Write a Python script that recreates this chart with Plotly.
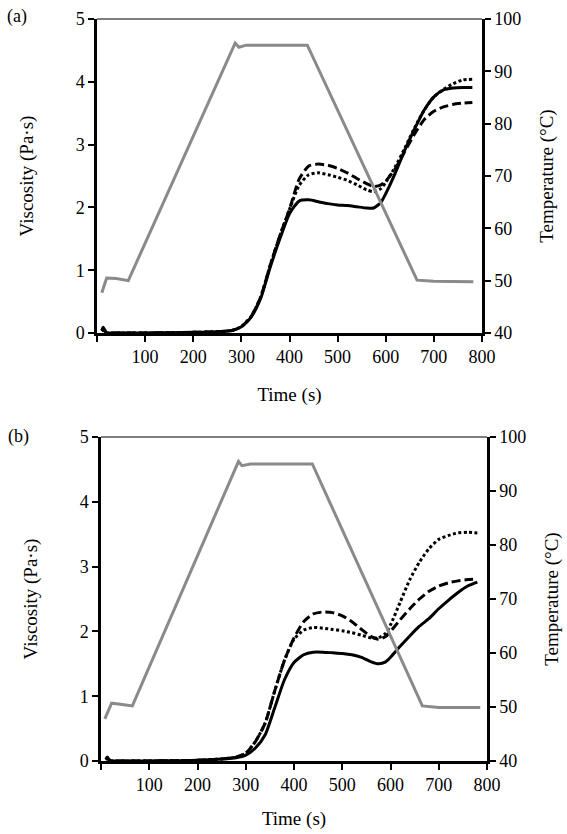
import plotly.graph_objects as go

# ---------------- data ----------------
time_v = [10, 13, 16, 20, 30, 50, 100, 150, 200, 250, 280, 300, 320, 340, 360, 380, 400,
          420, 440, 460, 480, 500, 520, 540, 560, 575, 590, 600, 620, 640, 660, 680,
          700, 720, 740, 760, 780]

# panel (a)
visc_a_solid = [0.04, 0.09, 0.05, 0.0, 0.0, 0.0, 0.0, 0.005, 0.01, 0.02, 0.04, 0.1, 0.25,
                0.55, 1.05, 1.5, 1.9, 2.1, 2.12, 2.09, 2.06, 2.04, 2.03, 2.01, 1.99, 1.99,
                2.08, 2.22, 2.55, 2.92, 3.25, 3.55, 3.76, 3.87, 3.9, 3.91, 3.91]
visc_a_dash = [0.03, 0.05, 0.03, 0.0, 0.0, 0.0, 0.0, 0.005, 0.01, 0.02, 0.04, 0.1, 0.26,
               0.57, 1.08, 1.55, 1.97, 2.45, 2.66, 2.69, 2.67, 2.62, 2.55, 2.46, 2.38, 2.33,
               2.36, 2.42, 2.62, 2.9, 3.17, 3.4, 3.53, 3.6, 3.64, 3.66, 3.67]
visc_a_dot = [0.03, 0.05, 0.03, 0.0, 0.0, 0.0, 0.0, 0.005, 0.01, 0.02, 0.04, 0.1, 0.26,
              0.57, 1.08, 1.55, 1.97, 2.35, 2.52, 2.55, 2.52, 2.48, 2.43, 2.36, 2.28, 2.25,
              2.3, 2.4, 2.65, 2.95, 3.27, 3.55, 3.76, 3.88, 3.97, 4.03, 4.04]

# panel (b)
visc_b_solid = [0.03, 0.06, 0.03, 0.0, 0.0, 0.0, 0.0, 0.005, 0.01, 0.03, 0.05, 0.09, 0.2,
                0.4, 0.82, 1.25, 1.52, 1.64, 1.68, 1.68, 1.67, 1.66, 1.64, 1.6, 1.53, 1.5,
                1.53, 1.6, 1.77, 1.93, 2.08, 2.2, 2.35, 2.48, 2.6, 2.7, 2.76]
visc_b_dash = [0.02, 0.04, 0.02, 0.0, 0.0, 0.0, 0.0, 0.005, 0.01, 0.03, 0.06, 0.12, 0.3,
               0.58, 1.08, 1.55, 1.9, 2.15, 2.27, 2.3, 2.29, 2.24, 2.15, 2.03, 1.92, 1.88,
               1.92, 2.0, 2.18, 2.35, 2.5, 2.62, 2.7, 2.75, 2.78, 2.8, 2.81]
visc_b_dot = [0.02, 0.04, 0.02, 0.0, 0.0, 0.0, 0.0, 0.005, 0.01, 0.03, 0.06, 0.12, 0.3,
              0.58, 1.08, 1.55, 1.88, 2.02, 2.06, 2.05, 2.03, 2.01, 1.98, 1.94, 1.9, 1.9,
              1.97, 2.1, 2.45, 2.8, 3.07, 3.28, 3.42, 3.48, 3.52, 3.53, 3.52]

# temperature profiles
time_t_a = [10, 20, 40, 65, 287, 295, 310, 437, 665, 700, 782]
temp_a = [47.7, 50.5, 50.4, 50.0, 95.4, 94.6, 95.0, 95.0, 50.1, 49.9, 49.8]
time_t_b = [8, 22, 40, 65, 285, 292, 310, 438, 666, 700, 786]
temp_b = [47.8, 50.7, 50.5, 50.2, 95.5, 94.7, 95.0, 95.0, 50.2, 49.9, 49.9]

x_ticks = [0, 100, 200, 300, 400, 500, 600, 700, 800]
x_ticktext = ["", "100", "200", "300", "400", "500", "600", "700", "800"]

# ---------------- figure ----------------
W, H = 567, 834
FONT = "Liberation Serif, Times New Roman, serif"
GRAY = "#8a8a8a"

fig = go.Figure()

def add_panel(xa, ya, ya2, tv, sol, das, dot, tt, temp):
    common = dict(x=tv, xaxis=xa, yaxis=ya, mode="lines", showlegend=False,
                  line_shape="spline")
    fig.add_trace(go.Scatter(y=sol, line=dict(color="black", width=3, smoothing=0.6), **common))
    fig.add_trace(go.Scatter(y=das, line=dict(color="black", width=3, dash="9px,4px", smoothing=0.6), **common))
    fig.add_trace(go.Scatter(y=dot, line=dict(color="black", width=3, dash="3px,2.5px", smoothing=0.6), **common))
    fig.add_trace(go.Scatter(x=tt, y=temp, xaxis=xa, yaxis=ya2, mode="lines", showlegend=False,
                             line=dict(color=GRAY, width=3)))

add_panel("x", "y", "y2", time_v, visc_a_solid, visc_a_dash, visc_a_dot, time_t_a, temp_a)
add_panel("x2", "y3", "y4", time_v, visc_b_solid, visc_b_dash, visc_b_dot, time_t_b, temp_b)

tickfont = dict(family=FONT, size=18, color="black")
titlefont = dict(family=FONT, size=19, color="black")

def xax(domain, anchor, standoff):
    return dict(domain=domain, anchor=anchor, range=[0, 800], tickvals=x_ticks, ticktext=x_ticktext,
                ticks="outside", ticklen=6, tickwidth=2, tickcolor="black",
                showline=True, linewidth=2.5, linecolor="black", showgrid=False, zeroline=False,
                tickfont=tickfont, automargin=False,
                title=dict(text="Time (s)", font=titlefont, standoff=standoff))

def yleft(domain, anchor):
    return dict(domain=domain, anchor=anchor, range=[0, 5], tickvals=[0, 1, 2, 3, 4, 5],
                ticks="outside", ticklen=6, tickwidth=2, tickcolor="black",
                showline=True, linewidth=2.5, linecolor="black", showgrid=False, zeroline=False,
                tickfont=tickfont, automargin=False,
                title=dict(text="Viscosity (Pa·s)", font=titlefont, standoff=38))

def yright(domain, anchor, over):
    return dict(domain=domain, anchor=anchor, overlaying=over, side="right", range=[40, 100],
                tickvals=[40, 50, 60, 70, 80, 90, 100],
                ticks="outside", ticklen=6, tickwidth=2, tickcolor="black",
                showline=True, linewidth=2.5, linecolor="black", showgrid=False, zeroline=False,
                tickfont=tickfont, automargin=False,
                title=dict(text="Temperature (°C)", font=titlefont, standoff=20))

xa_dom = [97 / W, 482 / W]
xb_dom = [101 / W, 487 / W]
ya_dom = [1 - 333 / H, 1 - 19 / H]
yb_dom = [1 - 761 / H, 1 - 437 / H]

fig.update_layout(
    width=W, height=H,
    margin=dict(l=0, r=0, t=0, b=0),
    paper_bgcolor="white", plot_bgcolor="white",
    template=None,
    font=dict(family=FONT, color="black"),
    xaxis=xax(xa_dom, "y", 22),
    yaxis=yleft(ya_dom, "x"),
    yaxis2=yright(ya_dom, "x", "y"),
    xaxis2=xax(xb_dom, "y3", 18),
    yaxis3=yleft(yb_dom, "x2"),
    yaxis4=yright(yb_dom, "x2", "y3"),
    shapes=[
        dict(type="line", xref="x domain", yref="y domain", x0=0, x1=1, y0=1, y1=1,
             line=dict(color="#555555", width=1.5)),
        dict(type="line", xref="x2 domain", yref="y3 domain", x0=0, x1=1, y0=1, y1=1,
             line=dict(color="#555555", width=1.5)),
    ],
    annotations=[
        dict(text="(a)", x=17 / W, y=1 - 17 / H, xref="paper", yref="paper", showarrow=False,
             xanchor="center", yanchor="middle", font=dict(family=FONT, size=18, color="black")),
        dict(text="(b)", x=18 / W, y=1 - 437 / H, xref="paper", yref="paper", showarrow=False,
             xanchor="center", yanchor="middle", font=dict(family=FONT, size=18, color="black")),
    ],
)

fig.write_html("out.html")
